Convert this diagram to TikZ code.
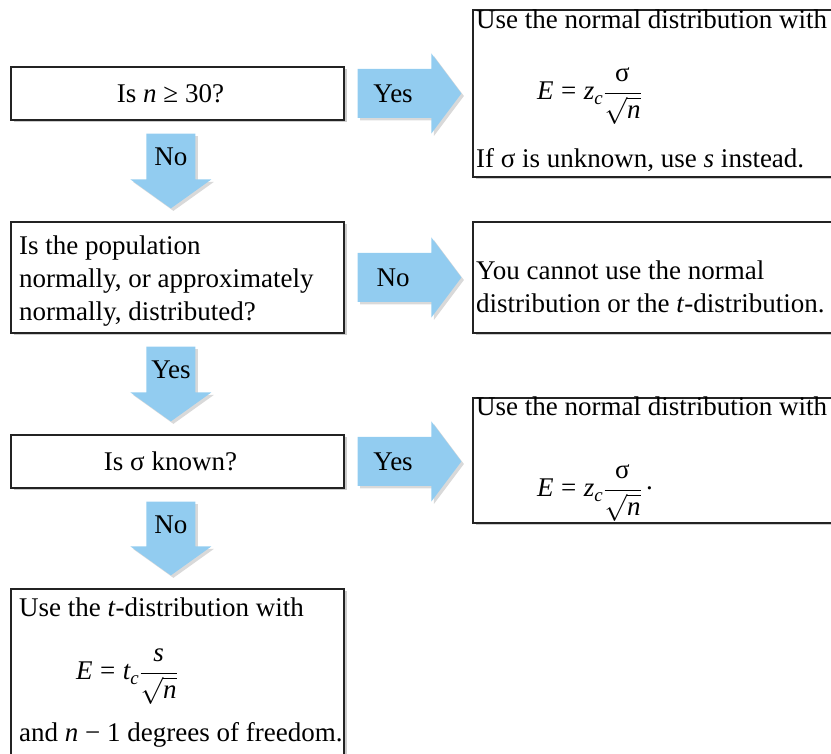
\RequirePackage{fix-cm}
\documentclass[tikz,border=0pt]{standalone}
\usepackage{amsmath}
\usepackage{fontspec}
\setmainfont{Liberation Serif}
\usetikzlibrary{calc,shadows}
\definecolor{arrowblue}{RGB}{146,204,240}
\definecolor{boxline}{RGB}{35,35,35}
\newcommand\mi[1]{\textit{#1}}
\newcommand\rightblock[4]{%
  \fill[blockarrow] let \p1=($(#1.east)+(13,0)$), \p2=($(#2.west)+(-11,0)$) in
    (\x1,\y1+24.5pt) -- (\x2-30pt,\y1+24.5pt) -- (\x2-30pt,\y1+40pt) -- (\x2,\y1)
    -- (\x2-30pt,\y1-40pt) -- (\x2-30pt,\y1-24.5pt) -- (\x1,\y1-24.5pt) -- cycle;
  \node[lbl] (#3) at ($(#1.east)+(48.5,0)$) {#4};
}
\newcommand\downblock[4]{%
  \fill[blockarrow] let \p1=($(#1.south west)+(160.5,-13)$), \p2=($(#2.north west)+(160.5,13)$) in
    (\x1-24.5pt,\y1) -- (\x1+24.5pt,\y1) -- (\x1+24.5pt,\y2+29pt) -- (\x1+40.5pt,\y2+29pt)
    -- (\x1,\y2) -- (\x1-40.5pt,\y2+29pt) -- (\x1-24.5pt,\y2+29pt) -- cycle;
  \node[lbl] (#3) at ($(#1.south west)+(160.5,-36.5)$) {#4};
}
\begin{document}
\begin{tikzpicture}[x=1pt,y=1pt,
  every node/.style={font=\fontsize{27}{33}\selectfont},
  box/.style={draw=boxline, line width=1.2pt, fill=white, inner sep=0pt,
    drop shadow={shadow xshift=2.5pt, shadow yshift=-2.5pt, fill=black, opacity=0.2}},
  txt/.style={anchor=base west, inner sep=0pt},
  lbl/.style={inner sep=0pt},
  blockarrow/.style={fill=arrowblue,
    drop shadow={shadow xshift=2.5pt, shadow yshift=-2.5pt, fill=black, opacity=0.15}},
]
\useasboundingbox (0,0) rectangle (831,754);
\clip (0,0) rectangle (831,754);

% left column boxes
\node[box, minimum width=333pt, minimum height=53pt] (b1) at (177.5,660.5) {};
\node[box, minimum width=333pt, minimum height=111pt] (b2) at (177.5,476.5) {};
\node[box, minimum width=333pt, minimum height=53pt] (b3) at (177.5,292.5) {};
\node[box, minimum width=333pt, minimum height=220pt] (b4) at (177.5,55) {};

% right column boxes (run past the right edge)
\node[box, minimum width=427pt, minimum height=167pt] (r1) at (686.5,660.5) {};
\node[box, minimum width=427pt, minimum height=111pt] (r2) at (686.5,476.5) {};
\node[box, minimum width=427pt, minimum height=125pt] (r3) at (686.5,293.5) {};

% block arrows
\rightblock{b1}{r1}{a1}{Yes}
\rightblock{b2}{r2}{a2}{No}
\rightblock{b3}{r3}{a3}{Yes}
\downblock{b1}{b2}{d1}{No}
\downblock{b2}{b3}{d2}{Yes}
\downblock{b3}{b4}{d3}{No}

% centred questions
\node[lbl] (b1t) at ($(b1.center)+(-7,0)$) {Is \mi{n} ≥ 30?};
\node[lbl] (b3t) at ($(b3.center)+(-7,0)$) {Is σ known?};

% texts in b2
\node[txt] (b2l1) at (19,499) {Is the population};
\node[txt] (b2l2) at (19,466) {normally, or approximately};
\node[txt] (b2l3) at (19,433) {normally, distributed?};

% texts in b4
\node[txt] (b4l1) at (19,137) {Use the \mi{t}-distribution with};
\node[txt] (b4f) at (76,74) {$\mi{E} \mathrel{\text{=}} \mi{t}_{\mi{c}}\dfrac{\mi{s}}{\sqrt{\mi{n}}}$};
\node[txt] (b4l3) at (19,12) {and \mi{n} − 1 degrees of freedom.};

% texts in r1
\node[txt] (r1l1) at (476,725) {Use the normal distribution with};
\node[txt] (r1f) at (537,654) {$\mi{E} \mathrel{\text{=}} \mi{z}_{\mi{c}}\dfrac{\text{σ}}{\sqrt{\mi{n}}}$};
\node[txt] (r1l3) at (476,586) {If σ is unknown, use \mi{s} instead.};

% texts in r2
\node[txt] (r2l1) at (476,474) {You cannot use the normal};
\node[txt] (r2l2) at (476,441) {distribution or the \mi{t}-distribution.};

% texts in r3
\node[txt] (r3l1) at (476,338) {Use the normal distribution with};
\node[txt] (r3f) at (537,257) {$\mi{E} \mathrel{\text{=}} \mi{z}_{\mi{c}}\dfrac{\text{σ}}{\sqrt{\mi{n}}}\,\raisebox{7pt}{.}$};
\end{tikzpicture}
\end{document}
